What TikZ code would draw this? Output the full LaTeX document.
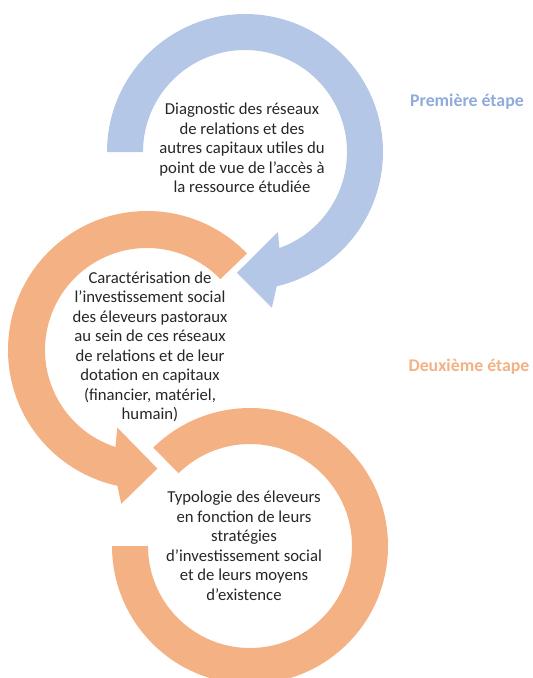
\documentclass[tikz,border=0pt]{standalone}
\usepackage{fontspec}
\setmainfont{Carlito}
\definecolor{bandblue}{HTML}{B4C7E7}
\definecolor{bandorange}{HTML}{F4B183}
\definecolor{lblblue}{HTML}{8FAADC}
\definecolor{lblorange}{HTML}{F4B183}
\definecolor{txtgray}{HTML}{262626}
\begin{document}
\begin{tikzpicture}[x=1pt,y=1pt,
  steptext/.style={align=center, text=txtgray, font=\fontsize{16.7}{19.5}\selectfont, inner sep=0pt},
  stagelabel/.style={font=\fontsize{17.8}{20}\selectfont\bfseries, inner sep=0pt}]
\useasboundingbox (0,0) rectangle (533,-678);
\clip (0,0) rectangle (533,-678);
% circle 3 (bottom, orange, no arrowhead)
\fill[bandorange, shift={(250,-546)}] (134.5:102) -- (134.5:138)
  arc[start angle=134.5, end angle=-180, radius=138] -- (180:102)
  arc[start angle=-180, end angle=134.5, radius=102] -- cycle;
% circle 2 (middle, orange)
\fill[bandorange, shift={(147,-350)}] (44:102) -- (44:139)
  arc[start angle=44, end angle=257.7, radius=139] -- (260.5:156) -- (275:119) -- (249:83) -- (252:102)
  arc[start angle=252, end angle=44, radius=102] -- cycle;
% circle 1 (top, blue)
\fill[bandblue, shift={(245,-152)}] (180:102) -- (180:138)
  arc[start angle=180, end angle=-76.7, radius=138] -- (-80.2:158) -- (-93.8:121) -- (-67.6:86.5) -- (-70.3:102)
  arc[start angle=-70.3, end angle=180, radius=102] -- cycle;
% texts
\node[steptext] (t1) at (242,-148) {Diagnostic des réseaux\\de relations et des\\autres capitaux utiles du\\point de vue de l’accès à\\la ressource étudiée};
\node[steptext] (t2) at (150,-347) {Caractérisation de\\l’investissement social\\des éleveurs pastoraux\\au sein de ces réseaux\\de relations et de leur\\dotation en capitaux\\(financier, matériel,\\humain)};
\node[steptext] (t3) at (244,-546) {Typologie des éleveurs\\en fonction de leurs\\stratégies\\d’investissement social\\et de leurs moyens\\d’existence};
\node[stagelabel, text=lblblue] (l1) at (467,-102) {Première étape};
\node[stagelabel, text=lblorange] (l2) at (469,-367) {Deuxième étape};
\end{tikzpicture}
\end{document}
